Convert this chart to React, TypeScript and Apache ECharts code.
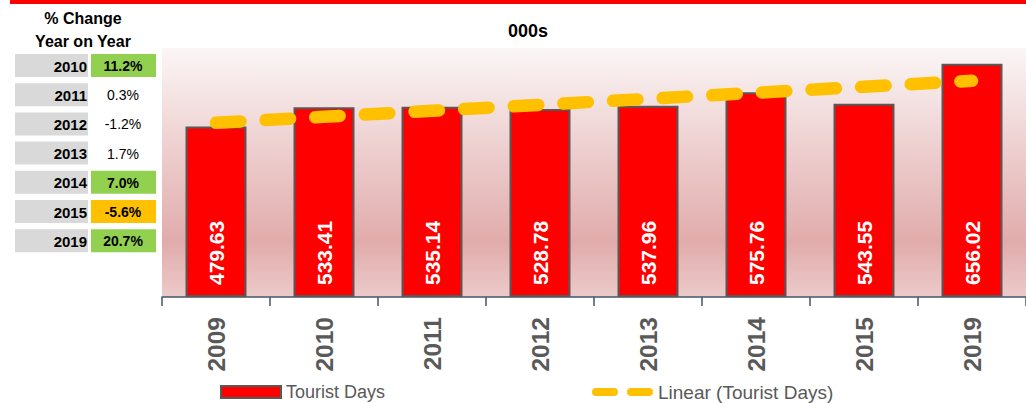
import React, { useEffect, useRef } from "react";
import * as echarts from "echarts";

const years = ["2009", "2010", "2011", "2012", "2013", "2014", "2015", "2019"];
const touristDays = [479.63, 533.41, 535.14, 528.78, 537.96, 575.76, 543.55, 656.02];

const changeYears = ["2010", "2011", "2012", "2013", "2014", "2015", "2019"];
const changeValues = ["11.2%", "0.3%", "-1.2%", "1.7%", "7.0%", "-5.6%", "20.7%"];
const changeHighlight = ["green", "none", "none", "none", "green", "orange", "green"];

// Excel-style linear trendline (least squares over category index)
function linearTrend(vals: number[]): number[] {
  const n = vals.length;
  const xs = vals.map((_, i) => i + 1);
  const mx = xs.reduce((a, b) => a + b, 0) / n;
  const my = vals.reduce((a, b) => a + b, 0) / n;
  let sxy = 0;
  let sxx = 0;
  for (let i = 0; i < n; i++) {
    sxy += (xs[i] - mx) * (vals[i] - my);
    sxx += (xs[i] - mx) * (xs[i] - mx);
  }
  const slope = sxy / sxx;
  return xs.map((x) => +(my + slope * (x - mx)).toFixed(2));
}

const FONT = "'Liberation Sans', Arial, sans-serif";

export default function App() {
  const ref = useRef<HTMLDivElement>(null);

  useEffect(() => {
    if (!ref.current) return;
    const chart = echarts.init(ref.current, null, { renderer: "svg" });

    const table: any[] = [];
    const rowTop0 = 54;
    const pitch = 29.2;
    const fillFor: Record<string, string> = { green: "#92d050", orange: "#ffc000" };
    changeYears.forEach((y, i) => {
      const top = rowTop0 + i * pitch;
      table.push({
        type: "rect",
        shape: { x: 15, y: top, width: 73, height: 23 },
        style: { fill: "#d9d9d9" },
      });
      const hl = changeHighlight[i];
      if (hl !== "none") {
        table.push({
          type: "rect",
          shape: { x: 91, y: top, width: 65, height: 23 },
          style: { fill: fillFor[hl] },
        });
      }
      table.push({
        type: "text",
        style: {
          text: y,
          x: 87,
          y: top + 12,
          fill: "#000",
          font: `bold 15px ${FONT}`,
          align: "right",
          verticalAlign: "middle",
          textAlign: "right",
          textVerticalAlign: "middle",
        },
      });
      table.push({
        type: "text",
        style: {
          text: changeValues[i],
          x: 123,
          y: top + 12,
          fill: "#000",
          font: `${hl !== "none" ? "bold " : ""}14px ${FONT}`,
          align: "center",
          verticalAlign: "middle",
          textAlign: "center",
          textVerticalAlign: "middle",
        },
      });
    });
    ["% Change", "Year on Year"].forEach((t, i) => {
      table.push({
        type: "text",
        style: {
          text: t,
          x: 83,
          y: 18 + i * 23,
          fill: "#000",
          font: `bold 16px ${FONT}`,
          align: "center",
          verticalAlign: "middle",
          textAlign: "center",
          textVerticalAlign: "middle",
        },
      });
    });
    table.push({
      type: "rect",
      shape: { x: 10, y: 0, width: 1016, height: 4 },
      style: { fill: "#ff0000" },
    });

    chart.setOption({
      animation: false,
      title: {
        text: "000s",
        left: 503,
        top: 17,
        textStyle: { fontFamily: FONT, fontWeight: "bold", fontSize: 18, color: "#000", lineHeight: 18 },
      },
      grid: {
        left: 162,
        top: 48,
        width: 870,
        height: 249,
        show: true,
        borderWidth: 0,
        backgroundColor: new echarts.graphic.LinearGradient(0, 0, 0, 1, [
          { offset: 0, color: "#fbf6f6" },
          { offset: 0.78, color: "#e1abab" },
          { offset: 1, color: "#eccaca" },
        ]),
      },
      legend: [
        {
          data: ["Tourist Days"],
          left: 220,
          top: 382,
          padding: 0,
          itemWidth: 60,
          itemHeight: 12,
          icon: "rect",
          itemStyle: { borderColor: "#595959", borderWidth: 2 },
          textStyle: { fontFamily: FONT, fontSize: 18, color: "#595959", lineHeight: 20 },
          selectedMode: false,
        },
        {
          data: [
            {
              name: "Linear (Tourist Days)",
              icon:
                "path://M4,0 H22 A4,4 0 0 1 22,8 H4 A4,4 0 0 1 4,0 Z M39,0 H57 A4,4 0 0 1 57,8 H39 A4,4 0 0 1 39,0 Z",
            },
          ],
          left: 592,
          top: 382,
          padding: 0,
          itemWidth: 61,
          itemHeight: 8,
          itemStyle: { color: "#ffc000", borderWidth: 0 },
          lineStyle: { width: 0 },
          textStyle: { fontFamily: FONT, fontSize: 19, color: "#595959", lineHeight: 20 },
          selectedMode: false,
        },
      ],
      xAxis: {
        type: "category",
        data: years,
        axisLine: { show: true, lineStyle: { color: "#44546a", width: 1.5 } },
        axisTick: { show: true, length: 9, lineStyle: { color: "#44546a", width: 1.5 } },
        axisLabel: {
          rotate: 90,
          margin: 20,
          color: "#595959",
          fontFamily: FONT,
          fontWeight: "bold",
          fontSize: 24.5,
        },
        splitLine: { show: false },
      },
      yAxis: {
        type: "value",
        min: 0,
        max: 700,
        show: false,
        splitLine: { show: false },
      },
      series: [
        {
          name: "Tourist Days",
          type: "bar",
          data: touristDays,
          barWidth: 61,
          itemStyle: { color: "#ff0000", borderColor: "#595959", borderWidth: 2 },
          label: {
            show: true,
            position: "insideBottom",
            distance: 12,
            rotate: 90,
            align: "left",
            verticalAlign: "middle",
            color: "#ffffff",
            fontFamily: FONT,
            fontWeight: "bold",
            fontSize: 21,
            formatter: (p: any) => Number(p.value).toFixed(2),
          },
          z: 2,
        },
        {
          name: "Linear (Tourist Days)",
          type: "line",
          data: linearTrend(touristDays),
          symbol: "none",
          lineStyle: { color: "#ffc000", width: 12.5, type: [24.5, 25.2], cap: "round" },
          itemStyle: { color: "#ffc000" },
          z: 3,
        },
      ],
      graphic: table,
    });

    return () => chart.dispose();
  }, []);

  return (
    <div
      ref={ref}
      style={{ position: "absolute", left: 0, top: 0, width: 1026, height: 403 }}
    />
  );
}
